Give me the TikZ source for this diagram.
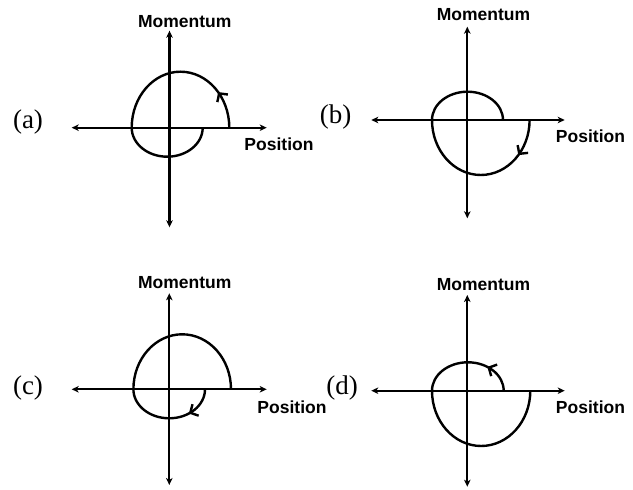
\documentclass[tikz,border=0pt]{standalone}
\usepackage{fontspec}
\setmainfont{Liberation Serif}
\newfontfamily\lsans{Liberation Sans}
\usetikzlibrary{arrows.meta,decorations.markings}
\begin{document}
\begin{tikzpicture}[x=1pt,y=1pt,
  phaseaxis/.style={line width=2.3pt,
    {Stealth[length=7pt,width=6.5pt,inset=2pt]}-{Stealth[length=7pt,width=6.5pt,inset=2pt]}},
  orbit/.style={line width=2.4pt},
  flowmark/.style={postaction={decorate},
    decoration={markings, mark=at position #1 with {\arrow{Straight Barb[length=6pt,width=13pt]}}}},
  axlabel/.style={font=\lsans\bfseries\fontsize{17.5}{20}\selectfont, inner sep=0pt},
  panellabel/.style={font=\fontsize{27}{30}\selectfont, inner sep=0pt}]
\useasboundingbox (0,0) rectangle (633,490);

% ---------- panel (a)
\begin{scope}[shift={(169.5,362.3)}]
  \coordinate (aL) at (-97.8,0); \coordinate (aR) at (97.2,0);
  \coordinate (aB) at (0,-99.6); \coordinate (aT) at (0,97);
  \draw[phaseaxis] (aL) -- (aR);
  \draw[phaseaxis] (aB) -- (aT);
  \coordinate (aS) at (59.8,0);
  \coordinate (aM) at (-37.8,0);
  \draw[orbit, flowmark=0.23] (aS) arc[start angle=0, end angle=180, x radius=48.8, y radius=56];
  \draw[orbit] (aM) arc[start angle=180, end angle=360, x radius=35.5, y radius=29];
\end{scope}

% ---------- panel (b)
\begin{scope}[shift={(467.3,370)}]
  \coordinate (bL) at (-96,0); \coordinate (bR) at (97.4,0);
  \coordinate (bB) at (0,-98.3); \coordinate (bT) at (0,93.3);
  \draw[phaseaxis] (bL) -- (bR);
  \draw[phaseaxis] (bB) -- (bT);
  \coordinate (bS) at (62.3,0);
  \coordinate (bM) at (-35.3,0);
  \draw[orbit, flowmark=0.23] (bS) arc[start angle=0, end angle=-180, x radius=48.8, y radius=55];
  \draw[orbit] (bM) arc[start angle=180, end angle=0, x radius=35.5, y radius=28.3];
\end{scope}

% ---------- panel (c)
\begin{scope}[shift={(169.3,100.7)}]
  \coordinate (cL) at (-97.6,0); \coordinate (cR) at (97.4,0);
  \coordinate (cB) at (0,-95.7); \coordinate (cT) at (0,96);
  \draw[phaseaxis] (cL) -- (cR);
  \draw[phaseaxis] (cB) -- (cT);
  \coordinate (cS) at (35.7,0);
  \coordinate (cM) at (-35.9,0);
  \draw[orbit, flowmark=0.3] (cS) arc[start angle=0, end angle=-180, x radius=35.8, y radius=29];
  \draw[orbit] (cM) arc[start angle=180, end angle=0, x radius=48.8, y radius=55];
\end{scope}

% ---------- panel (d)
\begin{scope}[shift={(467.3,99.3)}]
  \coordinate (dL) at (-96,0); \coordinate (dR) at (97.4,0);
  \coordinate (dB) at (0,-96); \coordinate (dT) at (0,95.7);
  \draw[phaseaxis] (dL) -- (dR);
  \draw[phaseaxis] (dB) -- (dT);
  \coordinate (dS) at (36.4,0);
  \coordinate (dM) at (-35.3,0);
  \draw[orbit, flowmark=0.3] (dS) arc[start angle=0, end angle=180, x radius=35.85, y radius=28.4];
  \draw[orbit] (dM) arc[start angle=180, end angle=360, x radius=49.15, y radius=55.3];
\end{scope}

% ---------- labels
\node[panellabel] (la) at (28,368) {(a)};
\node[panellabel] (lb) at (335.5,373) {(b)};
\node[panellabel] (lc) at (28,102) {(c)};
\node[panellabel] (ld) at (342,102) {(d)};

\node[axlabel] (ma) at (184.7,468.5) {Momentum};
\node[axlabel] (mb) at (483.5,475) {Momentum};
\node[axlabel] (mc) at (184.7,207) {Momentum};
\node[axlabel] (md) at (483.5,205) {Momentum};

\node[axlabel] (pa) at (279,346) {Position};
\node[axlabel] (pb) at (590.5,353.3) {Position};
\node[axlabel] (pc) at (292,83) {Position};
\node[axlabel] (pd) at (590.5,83) {Position};
\end{tikzpicture}
\end{document}
